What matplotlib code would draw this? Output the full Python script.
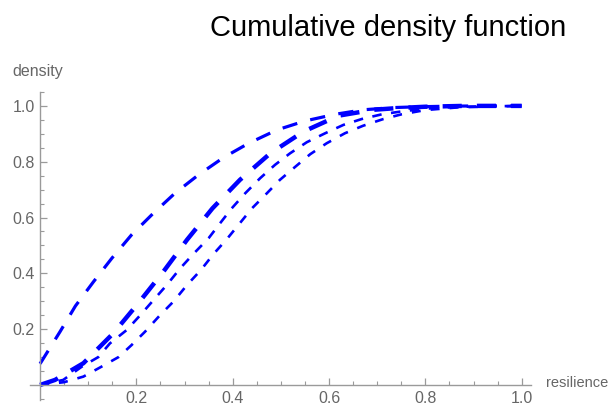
import matplotlib
matplotlib.use("Agg")
import matplotlib.pyplot as plt
from matplotlib.ticker import MultipleLocator, FixedLocator

plt.rcParams['font.family'] = ['Liberation Sans', 'DejaVu Sans']

# Cumulative density curves (resilience vs. cumulative density)
x_a = [0, 0.0415, 0.0734, 0.111, 0.149, 0.19, 0.235, 0.28, 0.329, 0.381, 0.433, 0.492,
       0.55, 0.613, 0.671, 0.734, 0.79, 0.85, 0.92, 1.0]
y_a = [0.076, 0.191, 0.283, 0.37, 0.454, 0.538, 0.615, 0.687, 0.753, 0.815, 0.866, 0.914,
       0.946, 0.97, 0.986, 0.994, 0.997, 0.999, 1.0, 1.0]

x_b = [0, 0.031, 0.09, 0.152, 0.204, 0.256, 0.305, 0.358, 0.415, 0.478, 0.547, 0.62,
       0.692, 0.74, 0.8, 0.88, 1.0]
y_b = [0.0, 0.018, 0.078, 0.185, 0.293, 0.406, 0.52, 0.633, 0.735, 0.83, 0.908, 0.965,
       0.986, 0.992, 0.997, 1.0, 1.0]

x_c = [0, 0.048, 0.087, 0.121, 0.145, 0.18, 0.208, 0.239, 0.263, 0.291, 0.318, 0.35,
       0.374, 0.398, 0.426, 0.457, 0.488, 0.519, 0.554, 0.592, 0.63, 0.668, 0.71, 0.75,
       0.8, 0.87, 1.0]
y_c = [0.0, 0.018, 0.066, 0.10, 0.149, 0.197, 0.25, 0.311, 0.358, 0.418, 0.469, 0.526,
       0.58, 0.633, 0.687, 0.741, 0.789, 0.83, 0.87, 0.902, 0.932, 0.953, 0.97, 0.98,
       0.99, 0.997, 1.0]

x_d = [0, 0.05, 0.09, 0.128, 0.163, 0.19, 0.218, 0.249, 0.277, 0.305, 0.334, 0.36,
       0.388, 0.415, 0.44, 0.471, 0.498, 0.53, 0.561, 0.595, 0.633, 0.671, 0.713, 0.751,
       0.8, 0.87, 1.0]
y_d = [0.0, 0.01, 0.03, 0.066, 0.10, 0.143, 0.191, 0.25, 0.299, 0.358, 0.412, 0.469,
       0.523, 0.58, 0.633, 0.687, 0.735, 0.782, 0.827, 0.866, 0.902, 0.929, 0.953, 0.97,
       0.985, 0.995, 1.0]

x_ticks = [0.2, 0.4, 0.6, 0.8, 1.0]
y_ticks = [0.2, 0.4, 0.6, 0.8, 1.0]

axis_gray = '#9a9a9a'
label_gray = '#666666'

fig = plt.figure(figsize=(6.11, 4.16), dpi=100)
ax = fig.add_axes([0.0498, 0.0377, 0.8198, 0.7413])

blue = (0, 0, 1)
ax.plot(x_a, y_a, color=blue, lw=2.3, dashes=(4.8, 4.2), dash_capstyle='butt')
ax.plot(x_b, y_b, color=blue, lw=3.2, dashes=(4.3, 3.4), dash_capstyle='butt')
ax.plot(x_c, y_c, color=blue, lw=1.9, dashes=(3.6, 3.6), dash_capstyle='butt')
ax.plot(x_d, y_d, color=blue, lw=1.9, dashes=(3.4, 3.8), dash_capstyle='butt')

ax.set_xlim(-0.02, 1.02)
ax.set_ylim(-0.055, 1.05)

for s in ['top', 'right']:
    ax.spines[s].set_visible(False)
ax.spines['left'].set_position(('data', 0))
ax.spines['bottom'].set_position(('data', 0))
for s in ['left', 'bottom']:
    ax.spines[s].set_color(axis_gray)
    ax.spines[s].set_linewidth(1.0)

ax.xaxis.set_major_locator(FixedLocator(x_ticks))
ax.yaxis.set_major_locator(FixedLocator(y_ticks))
ax.xaxis.set_minor_locator(MultipleLocator(0.05))
ax.yaxis.set_minor_locator(MultipleLocator(0.05))
ax.set_xticklabels([f"{v:.1f}" for v in x_ticks])
ax.set_yticklabels([f"{v:.1f}" for v in y_ticks])

ax.tick_params(axis='both', which='major', direction='in', length=5, width=0.9,
               color=axis_gray, labelcolor=label_gray, labelsize=11.5, pad=4)
ax.tick_params(axis='both', which='minor', direction='in', length=3, width=0.8,
               color=axis_gray)

fig.text(0.635, 0.933, 'Cumulative density function', ha='center', va='center',
         fontsize=21, color='black')
fig.text(0.061, 0.827, 'density', ha='center', va='center', fontsize=11.5,
         color=label_gray)
fig.text(0.944, 0.079, 'resilience', ha='center', va='center', fontsize=10.5,
         color=label_gray)

fig.savefig('out.png', dpi=100)
